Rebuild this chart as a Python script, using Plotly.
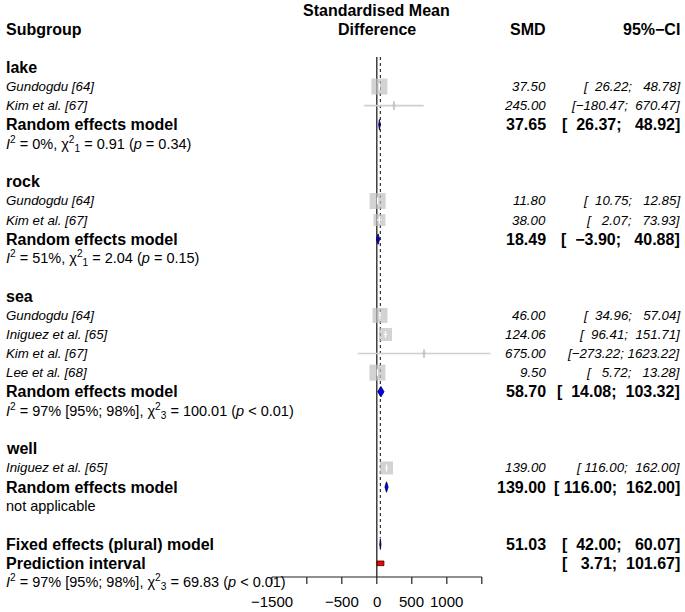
import plotly.graph_objects as go

# ---------------- data ----------------
subgroups = ["lake", "rock", "sea", "well"]
study_group = ["lake", "lake", "rock", "rock", "sea", "sea", "sea", "sea", "well"]
study_names = ["Gundogdu [64]", "Kim et al. [67]", "Gundogdu [64]", "Kim et al. [67]",
               "Gundogdu [64]", "Iniguez et al. [65]", "Kim et al. [67]", "Lee et al. [68]",
               "Iniguez et al. [65]"]
study_smd = [37.50, 245.00, 11.80, 38.00, 46.00, 124.06, 675.00, 9.50, 139.00]
study_lower = [26.22, -180.47, 10.75, 2.07, 34.96, 96.41, -273.22, 5.72, 116.00]
study_upper = [48.78, 670.47, 12.85, 73.93, 57.04, 151.71, 1623.22, 13.28, 162.00]

re_label = "Random effects model"
re_smd = [37.65, 18.49, 58.70, 139.00]
re_lower = [26.37, -3.90, 14.08, 116.00]
re_upper = [48.92, 40.88, 103.32, 162.00]
re_het = [
    "<i>I</i><sup>2</sup> = 0%, χ<sup>2</sup><sub>1</sub> = 0.91 (<i>p</i> = 0.34)",
    "<i>I</i><sup>2</sup> = 51%, χ<sup>2</sup><sub>1</sub> = 2.04 (<i>p</i> = 0.15)",
    "<i>I</i><sup>2</sup> = 97% [95%; 98%], χ<sup>2</sup><sub>3</sub> = 100.01 (<i>p</i> &lt; 0.01)",
    "not applicable",
]
fixed_label = "Fixed effects (plural) model"
fixed_smd = 51.03
fixed_lower = 42.00
fixed_upper = 60.07
pi_label = "Prediction interval"
pi_lower = 3.71
pi_upper = 101.67
overall_het = "<i>I</i><sup>2</sup> = 97% [95%; 98%], χ<sup>2</sup><sub>3</sub> = 69.83 (<i>p</i> &lt; 0.01)"

x_ticks = [-1500, -1000, -500, 0, 500, 1000, 1500]
x_tick_labels = ["−1500", "", "−500", "0", "500", "1000", ""]

# ---------------- style / layout ----------------
W, H = 685, 612
FONT = "Liberation Sans, Arial, sans-serif"
X0_PX = 376.8
PX_PER_UNIT = 0.07
ROW0_PX = 67.5
ROW_PX = 19.07
square_px = [16, 3, 16, 12, 15, 13, 3, 16, 13]
SZ_BOLD, SZ_IT, SZ_PLAIN, SZ_TICK = 16, 13.3, 14.5, 15
LEFT_PX, SMD_PX, CI_PX = 4.5, 546.5, 680.5

xrange = [(0 - X0_PX) / PX_PER_UNIT, (W - X0_PX) / PX_PER_UNIT]
yrange = [(H - ROW0_PX) / ROW_PX, (0 - ROW0_PX) / ROW_PX]
NB = "\u00a0"


def fmt(v):
    return f"{v:.2f}".replace("-", "−")


def pad(s, w=7):
    return NB * (w - len(s)) + s


def ci(lo, hi):
    return "[" + pad(fmt(lo)) + ";" + NB + pad(fmt(hi)) + "]"


annotations = []


def txt(x_px, row, text, anchor, size, bold=False, italic=False, xref="paper"):
    t = text
    if bold:
        t = f"<b>{t}</b>"
    if italic:
        t = f"<i>{t}</i>"
    annotations.append(dict(
        xref=xref, x=(x_px / W if xref == "paper" else x_px), yref="y", y=row,
        text=t, xanchor=anchor, yanchor="middle", showarrow=False, borderpad=0,
        font=dict(size=size, color="black", family=FONT)))


fig = go.Figure()

# header
txt(LEFT_PX, -2, "Subgroup", "left", SZ_BOLD, bold=True)
txt(0, -3, "Standardised Mean", "center", SZ_BOLD, bold=True, xref="x")
txt(0, -2, "Difference", "center", SZ_BOLD, bold=True, xref="x")
txt(SMD_PX, -2, "SMD", "right", SZ_BOLD, bold=True)
txt(CI_PX, -2, "95%−CI", "right", SZ_BOLD, bold=True)

study_rows = []
re_rows = []
row = 0
for gi, g in enumerate(subgroups):
    txt(LEFT_PX, row, g, "left", SZ_BOLD, bold=True)
    row += 1
    for i, sg in enumerate(study_group):
        if sg == g:
            study_rows.append(row)
            txt(LEFT_PX, row, study_names[i], "left", SZ_IT, italic=True)
            txt(SMD_PX, row, fmt(study_smd[i]), "right", SZ_IT, italic=True)
            txt(CI_PX, row, ci(study_lower[i], study_upper[i]), "right", SZ_IT, italic=True)
            row += 1
    re_rows.append(row)
    txt(LEFT_PX, row, re_label, "left", SZ_BOLD, bold=True)
    txt(SMD_PX, row, fmt(re_smd[gi]), "right", SZ_BOLD, bold=True)
    txt(CI_PX, row, ci(re_lower[gi], re_upper[gi]), "right", SZ_BOLD, bold=True)
    row += 1
    txt(LEFT_PX, row, re_het[gi], "left", SZ_PLAIN)
    row += 2

fixed_row = row
pi_row = row + 1
het_row = row + 2
txt(LEFT_PX, fixed_row, fixed_label, "left", SZ_BOLD, bold=True)
txt(SMD_PX, fixed_row, fmt(fixed_smd), "right", SZ_BOLD, bold=True)
txt(CI_PX, fixed_row, ci(fixed_lower, fixed_upper), "right", SZ_BOLD, bold=True)
txt(LEFT_PX, pi_row, pi_label, "left", SZ_BOLD, bold=True)
txt(CI_PX, pi_row, ci(pi_lower, pi_upper), "right", SZ_BOLD, bold=True)
txt(LEFT_PX, het_row, overall_het, "left", SZ_PLAIN)

axis_row = (577 - ROW0_PX) / ROW_PX
tick_len = 7 / ROW_PX
label_row = (601 - ROW0_PX) / ROW_PX
top_row = (57 - ROW0_PX) / ROW_PX

# reference lines
fig.add_trace(go.Scatter(x=[0, 0], y=[top_row, axis_row], mode="lines",
                         line=dict(color="#222222", width=1.3), hoverinfo="skip"))
fig.add_trace(go.Scatter(x=[fixed_smd, fixed_smd], y=[top_row, fixed_row - 0.3], mode="lines",
                         line=dict(color="#333333", width=1.2, dash="dot"), hoverinfo="skip"))

# study CI lines
for i, r in enumerate(study_rows):
    fig.add_trace(go.Scatter(x=[study_lower[i], study_upper[i]], y=[r, r], mode="lines",
                             line=dict(color="#CFCFCF", width=1.6), hoverinfo="skip"))
# squares
fig.add_trace(go.Scatter(x=study_smd, y=study_rows, mode="markers",
                         marker=dict(symbol="square", size=square_px, color="#C0C0C0",
                                     line=dict(width=0)), hoverinfo="skip"))
# white marks inside squares
for i, r in enumerate(study_rows):
    if square_px[i] >= 8:
        half = (square_px[i] / 2 - 2) / PX_PER_UNIT
        lo = max(study_lower[i], study_smd[i] - half)
        hi = min(study_upper[i], study_smd[i] + half)
        fig.add_trace(go.Scatter(x=[lo, hi], y=[r, r], mode="lines",
                                 line=dict(color="white", width=1.2), hoverinfo="skip"))
fig.add_trace(go.Scatter(x=[v for i, v in enumerate(study_smd) if square_px[i] >= 8],
                         y=[r for i, r in enumerate(study_rows) if square_px[i] >= 8],
                         mode="markers",
                         marker=dict(symbol="line-ns", size=5, line=dict(color="white", width=1.2)),
                         hoverinfo="skip"))
fig.add_trace(go.Scatter(x=[v for i, v in enumerate(study_smd) if square_px[i] < 8],
                         y=[r for i, r in enumerate(study_rows) if square_px[i] < 8],
                         mode="markers",
                         marker=dict(symbol="line-ns", size=6, line=dict(color="#C8C8C8", width=2)),
                         hoverinfo="skip"))

# diamonds
DH = 5.2 / ROW_PX


def diamond(lo, est, hi, r, fill):
    fig.add_trace(go.Scatter(x=[lo, est, hi, est, lo], y=[r, r - DH, r, r + DH, r],
                             mode="lines", fill="toself", fillcolor=fill,
                             line=dict(color="#000033", width=0.8), hoverinfo="skip"))


for gi, r in enumerate(re_rows):
    diamond(re_lower[gi], re_smd[gi], re_upper[gi], r, "#0000FF")
diamond(fixed_lower, fixed_smd, fixed_upper, fixed_row, "#00008B")

# prediction interval
PH = 2.3 / ROW_PX
fig.add_trace(go.Scatter(x=[pi_lower, pi_upper, pi_upper, pi_lower, pi_lower],
                         y=[pi_row - PH, pi_row - PH, pi_row + PH, pi_row + PH, pi_row - PH],
                         mode="lines", fill="toself", fillcolor="#FF0000",
                         line=dict(color="#330000", width=0.8), hoverinfo="skip"))

# x axis
fig.add_trace(go.Scatter(x=[x_ticks[0], x_ticks[-1]], y=[axis_row, axis_row], mode="lines",
                         line=dict(color="#222222", width=1.2), hoverinfo="skip"))
tx, ty = [], []
for t in x_ticks:
    tx += [t, t, None]
    ty += [axis_row, axis_row + tick_len, None]
fig.add_trace(go.Scatter(x=tx, y=ty, mode="lines", line=dict(color="#222222", width=1.2),
                         hoverinfo="skip"))
for t, lab in zip(x_ticks, x_tick_labels):
    if lab:
        annotations.append(dict(xref="x", x=t, yref="y", y=label_row, text=lab,
                                xanchor="center", yanchor="middle", showarrow=False,
                                borderpad=0, font=dict(size=SZ_TICK, color="black", family=FONT)))

fig.update_layout(
    width=W, height=H, margin=dict(l=0, r=0, t=0, b=0),
    paper_bgcolor="white", plot_bgcolor="white", showlegend=False,
    xaxis=dict(range=xrange, visible=False, fixedrange=True),
    yaxis=dict(range=yrange, visible=False, fixedrange=True),
    annotations=annotations,
)
fig.write_html("out.html", config={"displayModeBar": False},
               post_script="document.body.style.margin='0px';")
